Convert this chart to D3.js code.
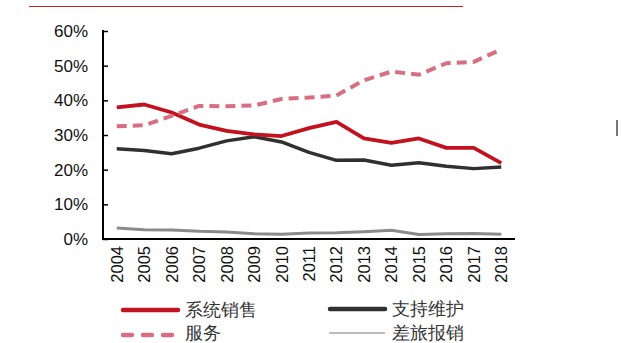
<!DOCTYPE html>
<html>
<head>
<meta charset="utf-8">
<script src="https://cdn.jsdelivr.net/npm/d3@7"></script>
<style>
  html, body { margin: 0; padding: 0; background: #fff; }
  svg { display: block; }
  text { font-family: "Liberation Sans", Arial, sans-serif; }
</style>
</head>
<body>
<svg id="chart" width="622" height="343"></svg>
<script>
// Yearly share of revenue by category (%)
const years = ["2004","2005","2006","2007","2008","2009","2010","2011","2012","2013","2014","2015","2016","2017","2018"];
const systemSales = [38.0, 38.8, 36.5, 33.0, 31.2, 30.2, 29.7, 32.0, 33.8, 29.0, 27.7, 29.0, 26.3, 26.3, 21.9];
const supportMaint = [26.0, 25.5, 24.6, 26.2, 28.3, 29.5, 28.0, 25.0, 22.7, 22.8, 21.3, 22.0, 21.0, 20.3, 20.8];
const services = [32.5, 32.8, 35.5, 38.4, 38.3, 38.5, 40.4, 40.8, 41.4, 45.8, 48.3, 47.4, 50.7, 51.1, 54.7];
const travel = [3.2, 2.7, 2.6, 2.2, 2.0, 1.5, 1.4, 1.7, 1.8, 2.1, 2.5, 1.3, 1.5, 1.6, 1.4];
const yTicks = [0, 10, 20, 30, 40, 50, 60];
const seriesNames = ["系统销售", "支持维护", "服务", "差旅报销"];

const svg = d3.select("#chart");

// header rule
svg.append("line").attr("x1", 29).attr("x2", 463).attr("y1", 6.5).attr("y2", 6.5)
  .attr("stroke", "#c8232c").attr("stroke-width", 1);
// small mark at the right edge
svg.append("rect").attr("x", 616).attr("y", 120).attr("width", 2).attr("height", 16).attr("fill", "#777");

const x = d3.scaleBand().domain(years).range([103, 515]);
const y = d3.scaleLinear().domain([0, 60]).range([239, 31]);

// y axis, ticks pointing inward
const yAxis = svg.append("g").attr("transform", "translate(103,0)")
  .call(d3.axisLeft(y).tickValues(yTicks).tickSize(-5).tickPadding(15).tickFormat(d => d + "%"));
yAxis.select(".domain").attr("stroke", "#000").attr("stroke-width", 2).attr("d", "M0,30V239");
yAxis.selectAll(".tick line").attr("stroke", "#000").attr("stroke-width", 1.5);
yAxis.selectAll("text").attr("font-size", 17).attr("fill", "#111")
  .attr("font-family", "'Liberation Sans', Arial, sans-serif");

// x axis
const xAxis = svg.append("g").attr("transform", "translate(0,239)")
  .call(d3.axisBottom(x).tickSize(0).tickPadding(0));
xAxis.select(".domain").attr("stroke", "#000").attr("stroke-width", 2).attr("d", "M102,0H515");
xAxis.selectAll("text")
  .attr("font-size", 16.5).attr("fill", "#111")
  .attr("font-family", "'Liberation Sans', Arial, sans-serif")
  .attr("text-anchor", "end")
  .attr("dy", null).attr("y", 0)
  .attr("transform", "translate(6,7) rotate(-90)");

const line = d3.line().x((d, i) => x(years[i]) + x.bandwidth() / 2).y(d => y(d));

const styles = [
  { data: systemSales, color: "#c3121f", width: 3.8, dash: null },
  { data: supportMaint, color: "#303030", width: 3.5, dash: null },
  { data: services, color: "#d86e82", width: 4, dash: "10,6" },
  { data: travel, color: "#8a8a8a", width: 3, dash: null }
];

// draw order: travel, support, sales, services
[3, 1, 0, 2].forEach(k => {
  const s = styles[k];
  svg.append("path").datum(s.data)
    .attr("d", line)
    .attr("fill", "none")
    .attr("stroke", s.color)
    .attr("stroke-width", s.width)
    .attr("stroke-linejoin", "round")
    .attr("stroke-dasharray", s.dash);
});

// legend
const legend = [
  { name: seriesNames[0], x1: 123, x2: 178, y: 310, ty: 316, color: "#c3121f", width: 4.5, dash: null, cap: "round" },
  { name: seriesNames[1], x1: 330, x2: 385, y: 309, ty: 315, color: "#303030", width: 4.5, dash: null, cap: "round" },
  { name: seriesNames[2], x1: 123, x2: 172, y: 335, ty: 339, color: "#d86e82", width: 4.5, dash: "9,11", cap: "round" },
  { name: seriesNames[3], x1: 329, x2: 385, y: 333, ty: 339, color: "#555", width: 0.8, dash: null, cap: "butt" }
];
legend.forEach(l => {
  svg.append("line").attr("x1", l.x1).attr("x2", l.x2).attr("y1", l.y).attr("y2", l.y)
    .attr("stroke", l.color).attr("stroke-width", l.width)
    .attr("stroke-dasharray", l.dash).attr("stroke-linecap", l.cap);
  svg.append("text").attr("x", l.name === "服务" ? 185 : l.x2 + 7).attr("y", l.ty)
    .attr("font-size", 17.5).attr("fill", "#333")
    .attr("font-family", "'Noto Sans CJK SC', sans-serif")
    .text(l.name);
});
</script>
</body>
</html>
